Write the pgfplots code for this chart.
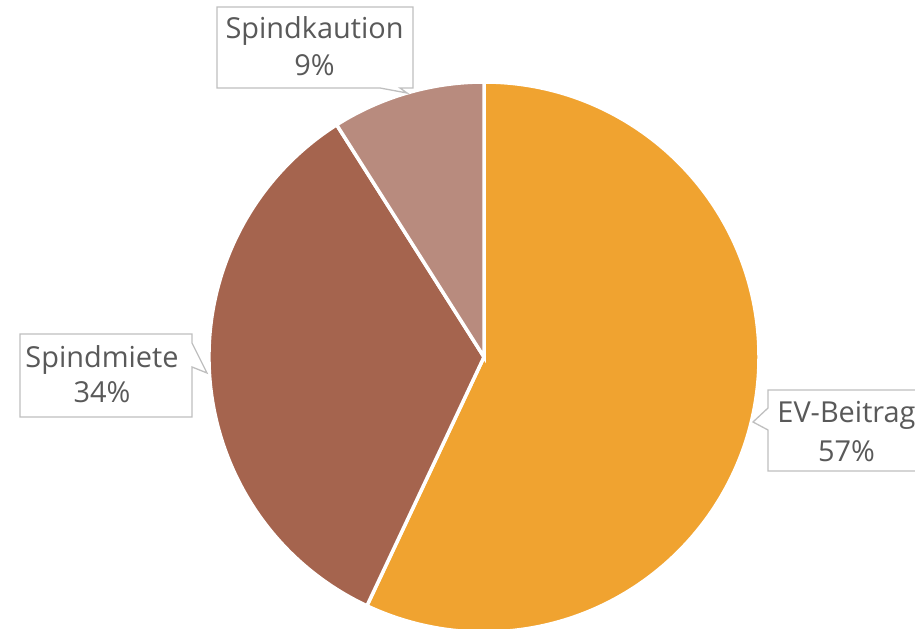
\documentclass[border=0pt]{standalone}
\usepackage{pgfplots}
\pgfplotsset{compat=1.18}
\usepackage{fontspec}
\setmainfont{Open Sans}

\definecolor{evorange}{HTML}{F0A330}
\definecolor{miete}{HTML}{A5644E}
\definecolor{kaution}{HTML}{B88B7E}
\definecolor{labeltext}{HTML}{595959}
\definecolor{boxline}{HTML}{BFBFBF}

% shares in percent, clockwise from 12 o'clock
\def\pEV{57}
\def\pMiete{34}
\def\pKaution{9}

\newcommand{\lblfont}{\fontsize{29}{36}\selectfont}

\begin{document}
\begin{tikzpicture}
\begin{axis}[
  at={(0,0)}, anchor=south west,
  width=915bp, height=629bp, scale only axis,
  xmin=0, xmax=915, ymin=0, ymax=629,
  axis lines=none, ticks=none,
  clip=true,
]
% pie: centre (484,272), radius 275
\fill[evorange, draw=white, line width=3.5bp]
  (axis cs:484,272) -- ++(90:275bp)
  arc[start angle=90, delta angle={-3.6*\pEV}, radius=275bp] -- cycle;
\fill[miete, draw=white, line width=3.5bp]
  (axis cs:484,272) -- ++({90-3.6*\pEV}:275bp)
  arc[start angle={90-3.6*\pEV}, delta angle={-3.6*\pMiete}, radius=275bp] -- cycle;
\fill[kaution, draw=white, line width=3.5bp]
  (axis cs:484,272) -- ++({90-3.6*(\pEV+\pMiete)}:275bp)
  arc[start angle={90-3.6*(\pEV+\pMiete)}, delta angle={-3.6*\pKaution}, radius=275bp] -- cycle;

% callout boxes
\filldraw[fill=white, draw=boxline, line width=1.3bp]
  (axis cs:217,622) -- (axis cs:413,622) -- (axis cs:413,541) -- (axis cs:400,541)
  -- (axis cs:407,536) -- (axis cs:380,541) -- (axis cs:217,541) -- cycle;
\filldraw[fill=white, draw=boxline, line width=1.3bp]
  (axis cs:20,295) -- (axis cs:192,295) -- (axis cs:192,286) -- (axis cs:207,256)
  -- (axis cs:192,262) -- (axis cs:192,212) -- (axis cs:20,212) -- cycle;
\filldraw[fill=white, draw=boxline, line width=1.3bp]
  (axis cs:768,239) -- (axis cs:930,239) -- (axis cs:930,158) -- (axis cs:768,158)
  -- (axis cs:768,199) -- (axis cs:753,207) -- (axis cs:768,221) -- cycle;

% labels
\node[anchor=base, text=labeltext, font=\lblfont, inner sep=0pt] at (axis cs:314.5,590) {Spindkaution};
\node[anchor=base, text=labeltext, font=\lblfont, inner sep=0pt] at (axis cs:314.5,553) {\pKaution\%};
\node[anchor=base, text=labeltext, font=\lblfont, inner sep=0pt] at (axis cs:102,261) {Spindmiete};
\node[anchor=base, text=labeltext, font=\lblfont, inner sep=0pt] at (axis cs:102,226) {\pMiete\%};
\node[anchor=base, text=labeltext, font=\lblfont, inner sep=0pt] at (axis cs:846.5,206) {EV-Beitrag};
\node[anchor=base, text=labeltext, font=\lblfont, inner sep=0pt] at (axis cs:846.5,167) {\pEV\%};
\end{axis}
\pgfresetboundingbox
\path[use as bounding box] (0,0) rectangle (915bp,629bp);
\end{tikzpicture}
\end{document}
